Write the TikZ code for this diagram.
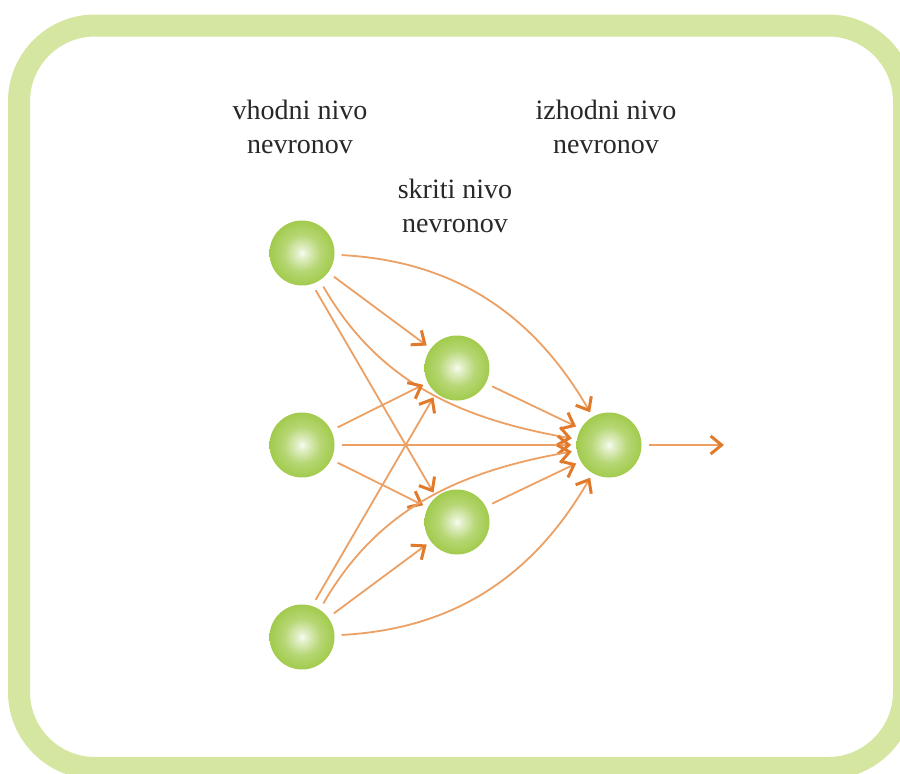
\documentclass[tikz,border=0pt]{standalone}
\usepackage{fontspec}
\setmainfont{Liberation Serif}
\usetikzlibrary{arrows.meta}
\definecolor{band}{RGB}{213,230,160}
\definecolor{ballg}{RGB}{138,190,32}
\definecolor{linec}{RGB}{236,160,100}
\definecolor{tipc}{RGB}{225,122,42}
\definecolor{txt}{RGB}{40,40,40}
\pgfdeclareradialshading{nball}{\pgfpoint{0bp}{0bp}}{color(0bp)=(ballg!6!white); color(4bp)=(ballg!25!white); color(14bp)=(ballg!62!white); color(28bp)=(ballg!85!white); color(44bp)=(ballg); color(50bp)=(ballg!92!black)}
\tikzset{
  ball/.style={circle, minimum size=65pt, inner sep=0pt, shade, shading=nball},
  conn/.style={draw=linec, line width=1.8pt, shorten <=7pt, shorten >=5pt,
    -{Straight Barb[length=11pt,width=18pt,line width=3pt,color=tipc]}},
  lbl/.style={font=\fontsize{28}{34}\selectfont, text=txt, align=center, inner sep=0pt, anchor=base}
}
\begin{document}
\begin{tikzpicture}[x=1pt,y=1pt]
\useasboundingbox (0,0) rectangle (900,-774);
\clip (0,0) rectangle (900,-774);
\fill[white] (0,0) rectangle (900,-774);
\draw[band, line width=22pt, rounded corners=76pt] (19,-25.5) rectangle (904,-768);

\node[lbl] (t1) at (300,-153) {vhodni nivo\\nevronov};
\node[lbl] (t2) at (455,-232) {skriti nivo\\nevronov};
\node[lbl] (t3) at (606,-153) {izhodni nivo\\nevronov};

\node[ball] (i1) at (302,-253) {};
\node[ball] (i2) at (302,-445) {};
\node[ball] (i3) at (302,-637) {};
\node[ball] (h1) at (457,-368) {};
\node[ball] (h2) at (457,-522) {};
\node[ball] (o)  at (609,-445) {};
\coordinate (end) at (724,-445);

\draw[conn] (i1) to[out=-3,in=120] (o);
\draw[conn] (i1) -- (h1);
\draw[conn] (i1.-72) -- (h2.130);
\draw[conn] (i1.-57) to[out=-60,in=170] (o.170);
\draw[conn] (i2) -- (h1);
\draw[conn] (i2) -- (o);
\draw[conn] (i2) -- (h2);
\draw[conn] (i3.72) -- (h1.230);
\draw[conn] (i3.57) to[out=60,in=190] (o.190);
\draw[conn] (i3) -- (h2);
\draw[conn] (i3) to[out=3,in=240] (o);
\draw[conn] (h1.-28) -- (o.150);
\draw[conn] (h2.28) -- (o.210);
\draw[conn, shorten >=0pt] (o) -- (end);
\end{tikzpicture}
\end{document}
